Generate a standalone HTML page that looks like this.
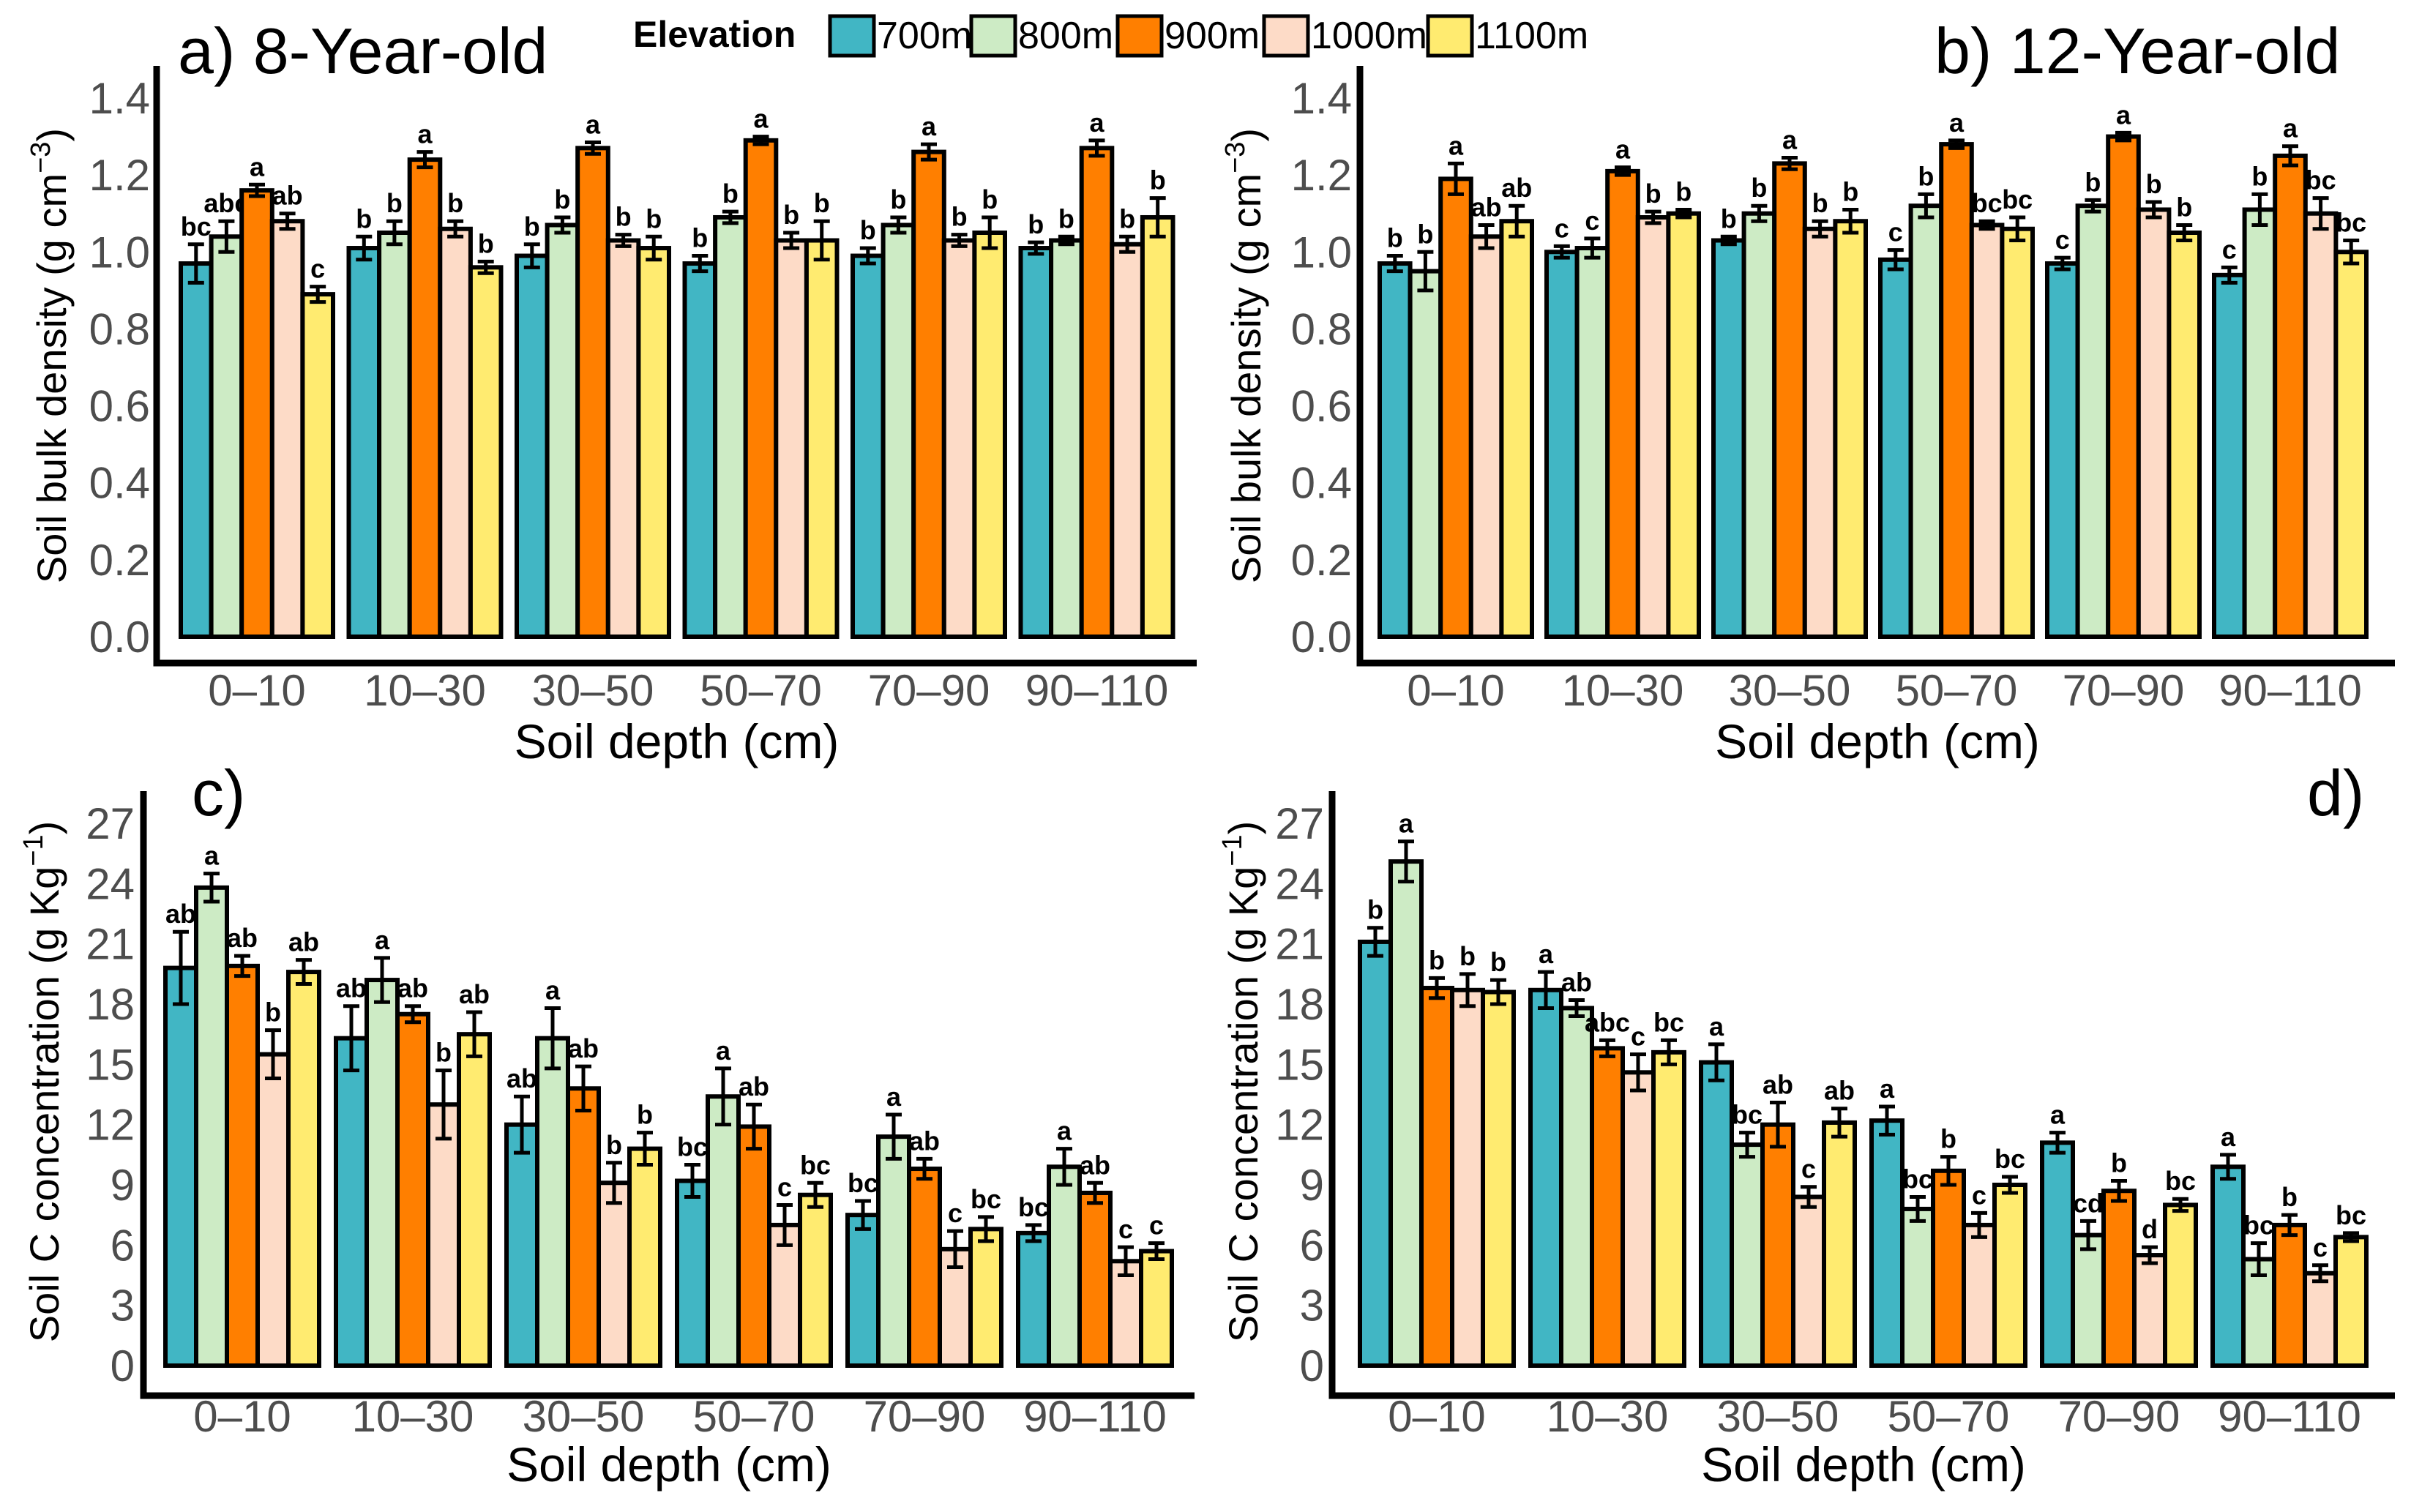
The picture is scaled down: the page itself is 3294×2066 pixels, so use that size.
<!DOCTYPE html>
<html><head><meta charset="utf-8">
<style>
html,body{margin:0;padding:0;background:#fff;}
svg{display:block;font-family:"Liberation Sans",sans-serif;}
</style></head>
<body>
<svg id="chart" width="3294" height="2066" viewBox="0 0 3294 2066" xmlns="http://www.w3.org/2000/svg">
<g>
<text x="865" y="64" font-size="50" font-weight="bold">Elevation</text>
<rect x="1134" y="22" width="60" height="54" fill="#41b6c4" stroke="#000" stroke-width="5"/>
<text x="1198" y="66" font-size="52">700m</text>
<rect x="1327" y="22" width="60" height="54" fill="#cdebc5" stroke="#000" stroke-width="5"/>
<text x="1391" y="66" font-size="52">800m</text>
<rect x="1527" y="22" width="60" height="54" fill="#ff7f00" stroke="#000" stroke-width="5"/>
<text x="1591" y="66" font-size="52">900m</text>
<rect x="1727" y="22" width="60" height="54" fill="#fddbc7" stroke="#000" stroke-width="5"/>
<text x="1791" y="66" font-size="52">1000m</text>
<rect x="1951" y="22" width="60" height="54" fill="#ffeb70" stroke="#000" stroke-width="5"/>
<text x="2015" y="66" font-size="52">1100m</text>
</g>
<text x="243" y="100" font-size="88">a)  8-Year-old</text>
<text x="2643" y="100" font-size="88">b)  12-Year-old</text>
<text x="262" y="1114" font-size="88">c)</text>
<text x="3152" y="1114" font-size="88">d)</text>
</svg>
<script>
const categories = ["0\u201310","10\u201330","30\u201350","50\u201370","70\u201390","90\u2013110"];
const elevations = ["700m","800m","900m","1000m","1100m"];
const colors = ["#41b6c4","#cdebc5","#ff7f00","#fddbc7","#ffeb70"];

const aVals = [[0.97,1.04,1.16,1.08,0.89],[1.01,1.05,1.24,1.06,0.96],[0.99,1.07,1.27,1.03,1.01],[0.97,1.09,1.29,1.03,1.03],[0.99,1.07,1.26,1.03,1.05],[1.01,1.03,1.27,1.02,1.09]];
const aErr = [[0.05,0.04,0.015,0.02,0.02],[0.03,0.03,0.02,0.02,0.015],[0.03,0.02,0.015,0.015,0.03],[0.02,0.015,0.01,0.02,0.05],[0.02,0.02,0.02,0.015,0.04],[0.015,0.01,0.02,0.02,0.05]];
const aLet = [["bc","abc","a","ab","c"],["b","b","a","b","b"],["b","b","a","b","b"],["b","b","a","b","b"],["b","b","a","b","b"],["b","b","a","b","b"]];

const bVals = [[0.97,0.95,1.19,1.04,1.08],[1.00,1.01,1.21,1.09,1.10],[1.03,1.10,1.23,1.06,1.08],[0.98,1.12,1.28,1.07,1.06],[0.97,1.12,1.30,1.11,1.05],[0.94,1.11,1.25,1.10,1.00]];
const bErr = [[0.02,0.05,0.04,0.03,0.04],[0.015,0.025,0.01,0.015,0.01],[0.01,0.02,0.015,0.02,0.03],[0.025,0.03,0.01,0.01,0.03],[0.015,0.015,0.01,0.02,0.02],[0.02,0.04,0.025,0.04,0.03]];
const bLet = [["b","b","a","ab","ab"],["c","c","a","b","b"],["b","b","a","b","b"],["c","b","a","bc","bc"],["c","b","a","b","b"],["c","b","a","bc","bc"]];

const cVals = [[19.8,23.8,19.9,15.5,19.6],[16.3,19.2,17.5,13.0,16.5],[12.0,16.3,13.8,9.1,10.8],[9.2,13.4,11.9,7.0,8.5],[7.5,11.4,9.8,5.8,6.8],[6.6,9.9,8.6,5.2,5.7]];
const cErr = [[1.8,0.7,0.5,1.2,0.6],[1.6,1.1,0.4,1.7,1.1],[1.4,1.5,1.1,1.0,0.8],[0.8,1.4,1.1,1.0,0.6],[0.7,1.1,0.5,0.9,0.6],[0.4,0.9,0.5,0.7,0.4]];
const cLet = [["ab","a","ab","b","ab"],["ab","a","ab","b","ab"],["ab","a","ab","b","b"],["bc","a","ab","c","bc"],["bc","a","ab","c","bc"],["bc","a","ab","c","c"]];

const dVals = [[21.1,25.1,18.8,18.7,18.6],[18.7,17.8,15.8,14.6,15.6],[15.1,11.0,12.0,8.4,12.1],[12.2,7.8,9.7,7.0,9.0],[11.1,6.5,8.7,5.5,8.0],[9.9,5.3,7.0,4.6,6.4]];
const dErr = [[0.7,1.0,0.5,0.8,0.6],[0.9,0.4,0.4,0.9,0.6],[0.9,0.6,1.1,0.5,0.7],[0.7,0.6,0.7,0.6,0.4],[0.5,0.7,0.5,0.4,0.3],[0.6,0.8,0.5,0.4,0.2]];
const dLet = [["b","a","b","b","b"],["a","ab","abc","c","bc"],["a","bc","ab","c","ab"],["a","bc","b","c","bc"],["a","cd","b","d","bc"],["a","bc","b","c","bc"]];

const bdTicks = ["0.0","0.2","0.4","0.6","0.8","1.0","1.2","1.4"];
const cTicks = ["0","3","6","9","12","15","18","21","24","27"];

const NS="http://www.w3.org/2000/svg";
const svg=document.getElementById("chart");
function mk(tag,attrs,parent){const e=document.createElementNS(NS,tag);for(const k in attrs)e.setAttribute(k,attrs[k]);(parent||svg).appendChild(e);return e;}

function panel(id,vals,errs,lets,ticks,tmax,L,ytitle,sup){
  const g=mk("g",{});
  
  
  const y=v=>L.y0-(v/tmax)*(L.y0-L.yTop);
  ticks.forEach(t=>{
    const v=parseFloat(t);
    const tx=mk("text",{x:L.tickX,y:y(v)+21,"font-size":60,fill:"#4d4d4d","text-anchor":"end"},g);
    tx.textContent=t;
    
    
  });
  const bw=L.gw/5;
  categories.forEach((c,i)=>{
    const gx=L.gx0+i*L.pitch;
    vals[i].forEach((v,j)=>{
      const x=gx+j*bw;
      const r=mk("rect",{x:x,y:y(v),width:bw,height:L.y0-y(v),fill:colors[j],stroke:"#000","stroke-width":6},g);
      
      
      const e=errs[i][j],cx=x+bw/2,yt=y(v+e),yb=y(v-e);
      const eb=mk("path",{d:`M${cx-11},${yt}H${cx+11}M${cx},${yt}V${yb}M${cx-11},${yb}H${cx+11}`,stroke:"#000","stroke-width":5,fill:"none"},g);
      
      
      const lt=mk("text",{x:cx,y:yt-12,"font-size":36,"font-weight":"bold","text-anchor":"middle"},g);
      lt.textContent=lets[i][j];
      
      
    });
    const xl=mk("text",{x:gx+L.gw/2,y:L.xlabY,"font-size":60,fill:"#4d4d4d","text-anchor":"middle"},g);
    xl.textContent=c;
    
    
  });
  const ax=mk("path",{d:`M${L.ax},${L.axTop}V${L.axY}H${L.axRight}`,stroke:"#000","stroke-width":9,fill:"none"},g);
  
  
  const xt=mk("text",{x:(L.ax+L.axRight)/2,y:L.xtitY,"font-size":66,"text-anchor":"middle"},g);
  xt.textContent="Soil depth (cm)";
  
  
  const yt=mk("text",{x:0,y:0,"font-size":56,"text-anchor":"middle",transform:`translate(${L.ytX},${L.ytY}) rotate(-90)`},g);
  
  
  const t1=mk("tspan",{},yt);t1.textContent=ytitle;
  const t2=mk("tspan",{"font-size":38,dy:-22},yt);t2.textContent=sup;
  const t3=mk("tspan",{dy:22},yt);t3.textContent=")";
}
panel("a",aVals,aErr,aLet,bdTicks,1.4,{y0:870,yTop:134,gx0:247,gw:208,pitch:229.5,tickX:205,xlabY:964,xtitY:1036,ax:214,axTop:90,axY:906,axRight:1635,ytX:90,ytY:486},"Soil bulk density (g cm","\u22123");
panel("b",bVals,bErr,bLet,bdTicks,1.4,{y0:870,yTop:134,gx0:1885,gw:208,pitch:228,tickX:1847,xlabY:964,xtitY:1036,ax:1858,axTop:90,axY:906,axRight:3272,ytX:1722,ytY:486},"Soil bulk density (g cm","\u22123");
panel("c",cVals,cErr,cLet,cTicks,27,{y0:1866,yTop:1125,gx0:226,gw:210,pitch:233,tickX:184,xlabY:1956,xtitY:2024,ax:196,axTop:1081,axY:1907,axRight:1632,ytX:80,ytY:1478},"Soil C concentration (g Kg","\u22121");
panel("d",dVals,dErr,dLet,cTicks,27,{y0:1866,yTop:1125,gx0:1858,gw:210,pitch:233,tickX:1809,xlabY:1956,xtitY:2024,ax:1820,axTop:1081,axY:1907,axRight:3272,ytX:1718,ytY:1478},"Soil C concentration (g Kg","\u22121");
</script>
</body></html>
